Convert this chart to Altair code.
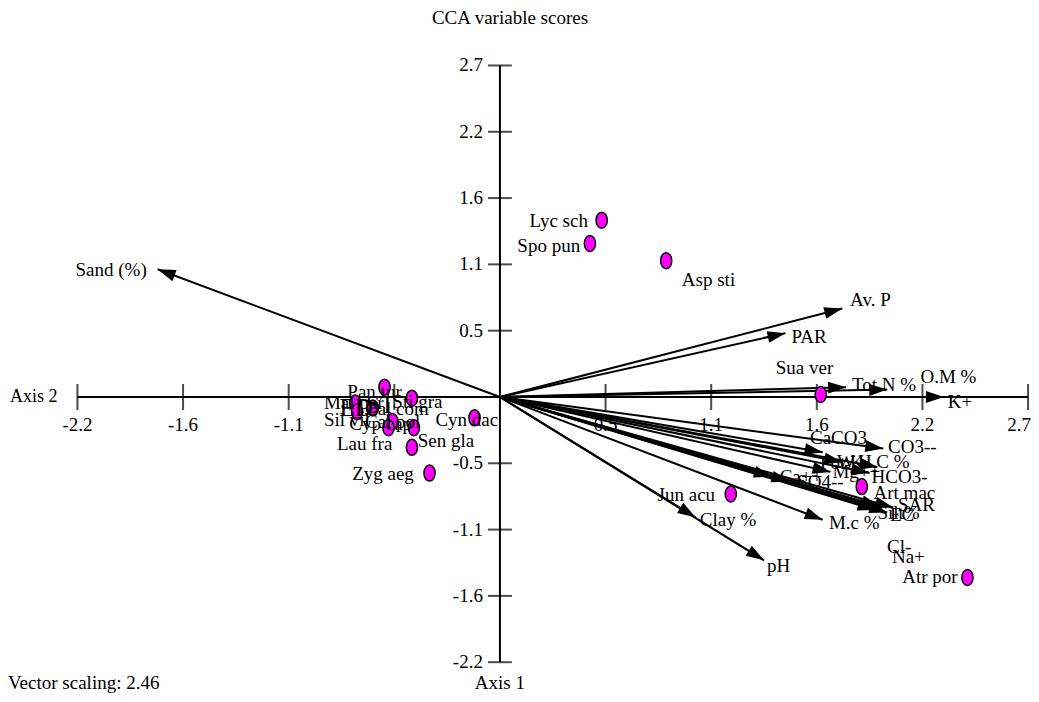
import altair as alt
import pandas as pd
import numpy as np

# ---------------- data ----------------
env_names = ["Sand (%)", "Av. P", "PAR", "Tot N %", "O.M %", "K+", "CaCO3", "CO3--",
             "Pot.K", "W.H.C %", "Mg++", "HCO3-", "Ca++", "SO4--", "SAR", "Silt%",
             "EC", "Cl-", "Na+", "M.c %", "Clay %", "pH"]
env_x = [-1.75, 1.75, 1.46, 1.77, 1.98, 2.27, 1.65, 1.96, 1.75, 1.93, 1.69, 1.89,
         1.39, 1.48, 2.01, 1.92, 1.98, 1.94, 1.95, 1.65, 1.00, 1.35]
env_y = [1.04, 0.72, 0.52, 0.08, 0.06, 0.00, -0.45, -0.42, -0.53, -0.57, -0.61, -0.62,
         -0.65, -0.69, -0.90, -0.92, -0.94, -0.89, -0.91, -1.00, -0.98, -1.33]
env_lab_x = [-2.17, 1.79, 1.49, 1.80, 2.15, 2.29, 1.585, 1.984, 1.636, 1.723, 1.70, 1.90,
             1.43, 1.52, 2.035, 1.93, 1.994, 1.979, 2.004, 1.682, 1.022, 1.365]
env_lab_y = [1.034, 0.79, 0.489, 0.098, 0.163, -0.04, -0.334, -0.407, -0.537, -0.53, -0.61, -0.65,
             -0.651, -0.692, -0.88, -0.945, -0.961, -1.22, -1.30, -1.026, -1.0, -1.376]

sp_names = ["Lyc sch", "Spo pun", "Asp sti", "Sua ver", "Art mac", "Jun acu", "Atr por",
            "Cyn dac", "Sen gla", "Lau fra", "Zyg aeg", "Pan tur", "Sti gra", "Mal par",
            "Sil vil", "Cal com", "Cyp cap", "Cal pol"]
sp_x = [0.52, 0.46, 0.85, 1.64, 1.85, 1.18, 2.39, -0.13, -0.44, -0.45, -0.36, -0.59,
        -0.45, -0.74, -0.73, -0.65, -0.55, -0.57]
sp_y = [1.44, 1.25, 1.11, 0.02, -0.73, -0.79, -1.47, -0.17, -0.25, -0.41, -0.62, 0.08,
        -0.01, -0.05, -0.12, -0.09, -0.20, -0.25]
sp_lab_x = [0.45, 0.41, 0.93, 1.41, 1.91, 1.10, 2.34, -0.33, -0.42, -0.55, -0.44, -0.78,
            -0.55, -0.90, -0.90, -0.69, -0.77, -0.69]
sp_lab_y = [1.43, 1.23, 0.95, 0.24, -0.78, -0.80, -1.47, -0.19, -0.36, -0.38, -0.63, 0.04,
            -0.04, -0.05, -0.19, -0.10, -0.22, -0.20]
sp_side = ["right", "right", "left", "left", "left", "right", "right", "left", "left",
           "right", "right", "left", "left", "left", "left", "left", "left", "left"]

big_names = ["ED", "ST"]
big_x = [-0.82, -0.685]
big_y = [-0.09, -0.065]

tick_vals = [-2.16, -1.62, -1.08, -0.54, 0.54, 1.08, 1.62, 2.16, 2.7]
x_tick_labels = ["-2.2", "-1.6", "-1.1", "", "0.5", "1.1", "1.6", "2.2", "2.7"]
y_tick_labels = ["-2.2", "-1.6", "-1.1", "-0.5", "0.5", "1.1", "1.6", "2.2", "2.7"]
axis_min, axis_max = -2.16, 2.7

# ---------------- layout ----------------
W, H = 1023, 686
X_DOMAIN = [-2.515, 2.715]
Y_DOMAIN = [-2.419, 3.168]
sx = W / (X_DOMAIN[1] - X_DOMAIN[0])
sy = H / (Y_DOMAIN[1] - Y_DOMAIN[0])
FONT = "Liberation Serif"
FS = 19

xs = alt.Scale(domain=X_DOMAIN, nice=False, zero=False)
ys = alt.Scale(domain=Y_DOMAIN, nice=False, zero=False)

def X(f):
    return alt.X(f, type="quantitative", scale=xs, axis=None)

def Y(f):
    return alt.Y(f, type="quantitative", scale=ys, axis=None)

env = pd.DataFrame({"name": env_names, "x": env_x, "y": env_y,
                    "lx": env_lab_x, "ly": env_lab_y})
env["x0"] = 0.0
env["y0"] = 0.0
env["angle"] = (np.degrees(np.arctan2(env["x"] * sx, env["y"] * sy)) % 360)

sp = pd.DataFrame({"name": sp_names, "x": sp_x, "y": sp_y,
                   "lx": sp_lab_x, "ly": sp_lab_y, "side": sp_side})
big = pd.DataFrame({"name": big_names, "x": big_x, "y": big_y})

ticks = pd.DataFrame({"v": tick_vals, "xl": x_tick_labels, "yl": y_tick_labels, "z": 0.0})

axes_df = pd.DataFrame({"x": [axis_min, 0.0], "x2": [axis_max, 0.0],
                        "y": [0.0, axis_min], "y2": [0.0, axis_max]})

axis_lines = alt.Chart(axes_df).mark_rule(color="black", strokeWidth=2).encode(
    x=X("x"), x2="x2", y=Y("y"), y2="y2")

xticks = alt.Chart(ticks).mark_tick(orient="vertical", size=26, thickness=2, color="black").encode(
    x=X("v"), y=Y("z"))
yticks = alt.Chart(ticks).mark_tick(orient="horizontal", size=24, thickness=2, color="black").encode(
    y=Y("v"), x=X("z"))

xtick_text = alt.Chart(ticks).transform_filter(alt.datum.v < axis_max).mark_text(
    font=FONT, fontSize=FS, align="center", baseline="middle", dy=28, color="black").encode(
    x=X("v"), y=Y("z"), text="xl:N")
# last label sits at the right edge of the page: keep it inside
xtick_text_last = alt.Chart(ticks).transform_filter(alt.datum.v >= axis_max).mark_text(
    font=FONT, fontSize=FS, align="right", baseline="middle", dy=28, dx=3, color="black").encode(
    x=X("v"), y=Y("z"), text="xl:N")
ytick_text = alt.Chart(ticks).mark_text(font=FONT, fontSize=FS, align="right",
                                        baseline="middle", dx=-17, color="black").encode(
    y=Y("v"), x=X("z"), text="yl:N")

arrow_lines = alt.Chart(env).mark_rule(color="black", strokeWidth=2).encode(
    x=X("x0"), y=Y("y0"), x2="x", y2="y")
arrow_heads = alt.Chart(env).mark_point(
    shape="M0,0L0.33,1L-0.33,1Z", size=1296, filled=True, color="black",
    opacity=1, strokeWidth=0).encode(
    x=X("x"), y=Y("y"), angle=alt.Angle("angle:Q", scale=None))
env_text = alt.Chart(env).mark_text(font=FONT, fontSize=FS, align="left",
                                    baseline="middle", color="black").encode(
    x=X("lx"), y=Y("ly"), text="name:N")

sp_points = alt.Chart(sp).mark_point(
    shape="M0,-1A0.7,1,0,1,1,0,1A0.7,1,0,1,1,0,-1Z", size=256, filled=True,
    fill="#ff00ff", stroke="black", strokeWidth=1.5, opacity=1, fillOpacity=1).encode(
    x=X("x"), y=Y("y"))
sp_text_l = alt.Chart(sp).transform_filter(alt.datum.side == "left").mark_text(
    font=FONT, fontSize=FS, align="left", baseline="middle", color="black").encode(
    x=X("lx"), y=Y("ly"), text="name:N")
sp_text_r = alt.Chart(sp).transform_filter(alt.datum.side == "right").mark_text(
    font=FONT, fontSize=FS, align="right", baseline="middle", color="black").encode(
    x=X("lx"), y=Y("ly"), text="name:N")
big_text = alt.Chart(big).mark_text(font=FONT, fontSize=25, align="left",
                                    baseline="middle", color="black").encode(
    x=X("x"), y=Y("y"), text="name:N")

deco = pd.DataFrame({"t": ["Axis 2"], "x": [axis_min], "y": [0.0]})
axis2_text = alt.Chart(deco).mark_text(font=FONT, fontSize=18, align="right",
                                       baseline="middle", dx=-20, color="black").encode(
    x=X("x"), y=Y("y"), text="t:N")
deco1 = pd.DataFrame({"t": ["Axis 1"], "x": [0.0], "y": [axis_min]})
axis1_text = alt.Chart(deco1).mark_text(font=FONT, fontSize=FS, align="center",
                                        baseline="alphabetic", dy=27, color="black").encode(
    x=X("x"), y=Y("y"), text="t:N")
deco2 = pd.DataFrame({"t": ["Vector scaling: 2.46"], "y": [axis_min]})
vs_text = alt.Chart(deco2).mark_text(font=FONT, fontSize=FS, align="left",
                                     baseline="alphabetic", dy=27, color="black").encode(
    x=alt.value(0), y=Y("y"), text="t:N")
deco3 = pd.DataFrame({"t": ["CCA variable scores"]})
title_text = alt.Chart(deco3).mark_text(font=FONT, fontSize=FS, align="center",
                                        baseline="middle", color="black").encode(
    x=alt.value(502), y=alt.value(10), text="t:N")

chart = alt.layer(
    axis_lines, xticks, yticks, xtick_text, xtick_text_last, ytick_text,
    arrow_lines, arrow_heads, sp_points, env_text, sp_text_l, sp_text_r, big_text,
    axis2_text, axis1_text, vs_text, title_text
).properties(
    width=W, height=H, padding=0, autosize=alt.AutoSizeParams(type="none")
).configure(background="white").configure_view(stroke=None, strokeWidth=0)

chart.save("out.html", embed_options={"renderer": "svg", "actions": False})
